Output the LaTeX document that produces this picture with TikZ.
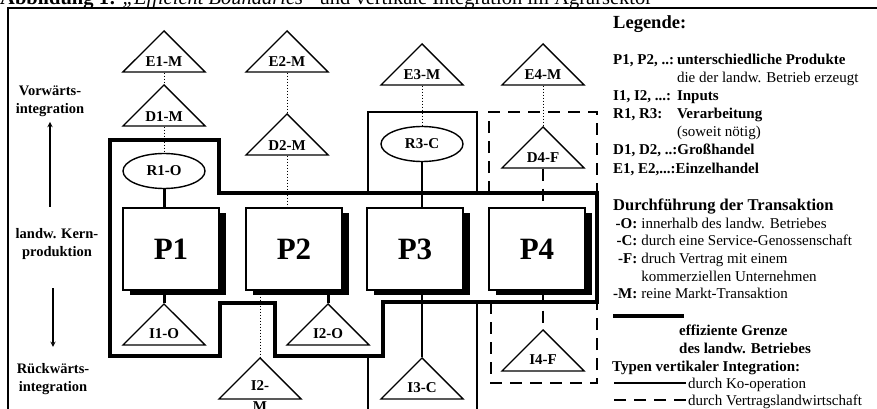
\documentclass[tikz,border=0pt]{standalone}
\usepackage{fontspec}
\setmainfont{Liberation Serif}
\usepackage{array}
\usetikzlibrary{shapes.geometric, shadows}

\begin{document}
\begin{tikzpicture}[>=stealth, x=1pt, y=-1pt,
  every node/.style={font=\fontsize{15}{18}\selectfont\bfseries},
  tri/.style={draw, line width=1.4pt, isosceles triangle, isosceles triangle apex angle=90,
    shape border rotate=90, minimum size=41pt, inner sep=1pt, anchor=apex},
  oval/.style={draw, line width=1.4pt, ellipse, minimum width=82pt, minimum height=35pt,
    inner xsep=0pt, inner ysep=6.5pt},
  prod/.style={draw, line width=1.4pt, fill=white, minimum width=96pt, minimum height=82pt, inner sep=0pt,
    font=\fontsize{31}{31}\selectfont\bfseries,
    drop shadow={opacity=1, fill=black, shadow xshift=7pt, shadow yshift=-5pt}},
  side/.style={align=center, font=\fontsize{14.5}{18}\selectfont\bfseries},
  leg/.style={anchor=base west, inner sep=0pt},
  bound/.style={line width=4.5pt, line join=miter},
  coop/.style={line width=1.2pt},
  contract/.style={line width=1.5pt, dash pattern=on 12pt off 8pt},
  link/.style={line width=1pt, dotted}]
  \useasboundingbox (0,0) rectangle (877,409);

  % title (cut off at the top) and frame
  \node[leg, font=\fontsize{20.5}{22}\selectfont] (title) at (0,5)
    {\textbf{Abbildung 1:} \textit{„Efficient Boundaries“} und vertikale Integration im Agrarsektor};
  \draw[line width=1.5pt] (8,415) -- (8,8) -- (880,8);

  % direction of integration
  \node[side] (vor) at (50,101) {Vorwärts-\\integration};
  \node[side] (kern) at (57,244) {landw. Kern-\\produktion};
  \node[side] (rueck) at (53,379) {Rückwärts-\\integration};
  \draw[->, line width=1.3pt, shorten <=18pt, shorten >=2pt] (vor.south |- kern.north) -- (vor.south);
  \draw[->, line width=1.3pt, shorten <=25pt, shorten >=13pt] (rueck.north |- kern.south) -- (rueck.north);

  % efficient boundary of the farm
  \draw[bound] (110,140) -- (219,140) -- (219,193) -- (597,193) -- (597,302) -- (383,302)
    -- (383,356) -- (275,356) -- (275,303) -- (220,303) -- (220,356) -- (110,356) -- cycle;
  % co-operation (P3) and contract farming (P4)
  \draw[coop] (368,193) -- (368,112) -- (477,112) -- (477,193);
  \draw[coop] (368,356) -- (368,415);
  \draw[coop] (477,302) -- (477,415);
  \draw[contract] (489,193) -- (489,112) -- (597,112) -- (597,193);
  \draw[contract] (491,302) -- (491,383) -- (597,383) -- (597,302);

  % products
  \node[prod] (p1) at (171,249) {P1};
  \node[prod] (p2) at (294,249) {P2};
  \node[prod] (p3) at (415,249) {P3};
  \node[prod] (p4) at (537,249) {P4};

  % forward stages
  \node[tri] (e1) at (164,30) {E1-M};
  \node[tri] (d1) at (164,84) {D1-M};
  \node[oval] (r1) at (164,171) {R1-O};
  \node[tri] (e2) at (287,30) {E2-M};
  \node[tri] (d2) at (287,113) {D2-M};
  \node[tri] (e3) at (422,43) {E3-M};
  \node[oval] (r3) at (422,144) {R3-C};
  \node[tri] (e4) at (543,43) {E4-M};
  \node[tri] (d4) at (543,126) {D4-F};

  % backward stages
  \node[tri] (i1) at (164,303) {I1-O};
  \node[tri] (i2o) at (328,303) {I2-O};
  \node[tri] (i2m) at (260,357) {I2-};
  \node[leg, anchor=base] (i2mb) at (i2m.lower side |- 0,411) {M};
  \node[tri] (i3) at (422,357) {I3-C};
  \node[tri] (i4) at (543,329) {I4-F};

  % links
  \draw[link] (e1.lower side) -- (d1.apex);
  \draw[link] (d1.lower side) -- (r1.north);
  \draw[line width=3pt] (r1.south) -- (r1.south |- p1.north);
  \draw[line width=3pt] (p1.south -| i1.apex) -- (i1.apex);
  \draw[link] (e2.lower side) -- (d2.apex);
  \draw[link] (d2.lower side) -- (d2.lower side |- p2.north);
  \draw[line width=3pt] (p2.south -| i2o.apex) -- (i2o.apex);
  \draw[link] (p2.south -| i2m.apex) -- (i2m.apex);
  \draw[link] (e3.lower side) -- (r3.north);
  \draw[coop] (r3.south) -- (r3.south |- p3.north);
  \draw[coop] (p3.south -| i3.apex) -- (i3.apex);
  \draw[link] (e4.lower side) -- (d4.apex);
  \draw[contract] (d4.lower side) -- (d4.lower side |- p4.north);
  \draw[contract] (p4.south -| i4.apex) -- (i4.apex);

  % legend
  \node[leg, font=\fontsize{18.5}{20}\selectfont\bfseries] (legende) at (613,29) {Legende:};
  \node[leg] (abbr) at (613,65) {\begin{tabular}[t]{@{}l@{\hspace{3pt}}l@{}}
    P1, P2, ..: & unterschiedliche Produkte\\
     & \mdseries die der landw. Betrieb erzeugt\\
    I1, I2, ...: & Inputs\\
    R1, R3: & Verarbeitung\\
     & \mdseries (soweit nötig)\\
    \multicolumn{2}{@{}l}{D1, D2, ..:Großhandel}\\
    \multicolumn{2}{@{}l}{E1, E2,...:Einzelhandel}
  \end{tabular}};
  \node[leg, font=\fontsize{16.5}{18}\selectfont\bfseries] (trans) at (613,210) {Durchführung der Transaktion};
  \node[leg] (modes) at (613,228) {\begin{tabular}[t]{@{}r@{\hspace{4pt}}>{\mdseries}l@{}}
    -O: & innerhalb des landw. Betriebes\\[-0.3pt]
    -C: & durch eine Service-Genossenschaft\\[-0.3pt]
    -F: & druch Vertrag mit einem\\[-0.3pt]
     & kommerziellen Unternehmen\\[-0.3pt]
    -M: & reine Markt-Transaktion
  \end{tabular}};
  \coordinate (kb1) at (613,316);
  \coordinate (kb2) at (684,316);
  \draw[line width=4.5pt] (kb1) -- (kb2);
  \node[leg] (grenze) at (679,335) {effiziente Grenze};
  \node[leg] (betrieb) at (679,353) {des landw. Betriebes};
  \node[leg] (typen) at (612,371) {Typen vertikaler Integration:};
  \node[leg, font=\fontsize{15}{18}\selectfont] (ko) at (688,388) {durch Ko-operation};
  \node[leg, font=\fontsize{15}{18}\selectfont] (vertrag) at (688,405) {durch Vertragslandwirtschaft};
  \draw[coop] (ko.west |- 0,383) ++(-2,0) -- (614,383);
  \draw[contract] (vertrag.west |- 0,400) ++(-2,0) -- (614,400);
\end{tikzpicture}
\end{document}
